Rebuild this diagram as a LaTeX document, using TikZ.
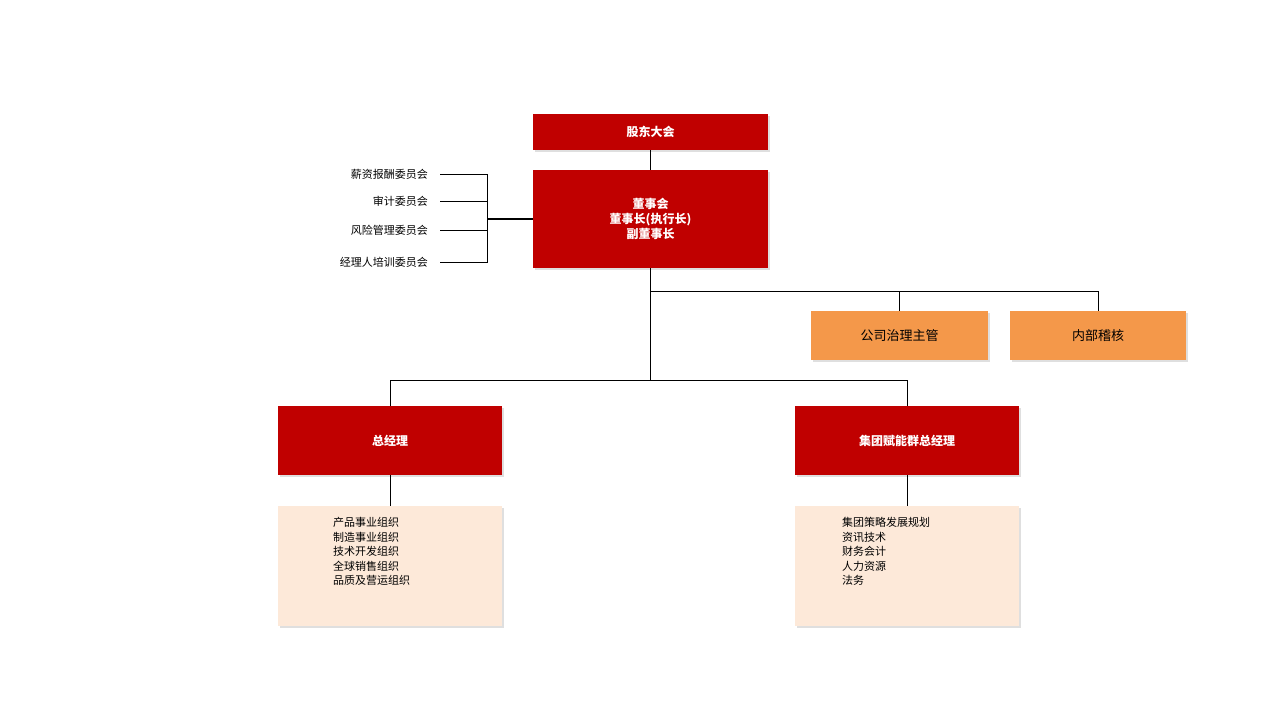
\documentclass[tikz,border=0pt]{standalone}
\usepackage{fontspec}
\setmainfont{Noto Sans CJK SC}
\usetikzlibrary{positioning,shadows}
\definecolor{boardred}{HTML}{C00000}
\definecolor{staffor}{HTML}{F4984A}
\definecolor{listbg}{HTML}{FDE9D9}
\tikzset{
  redbox/.style={fill=boardred,text=white,font=\bfseries\fontsize{12}{15}\selectfont,
    inner sep=0pt,align=center,drop shadow={opacity=0.25,shadow xshift=2pt,shadow yshift=-2pt}},
  orangebox/.style={fill=staffor,text=black,font=\fontsize{13}{15}\selectfont,
    inner sep=0pt,drop shadow={opacity=0.25,shadow xshift=2pt,shadow yshift=-2pt}},
  listbox/.style={fill=listbg,inner sep=0pt,drop shadow={opacity=0.25,shadow xshift=2pt,shadow yshift=-2pt}},
  listtext/.style={font=\fontsize{11}{14.6}\selectfont,align=left,inner sep=0pt,anchor=north west},
  cmte/.style={font=\fontsize{11}{13}\selectfont,anchor=east,inner sep=0pt},
  link/.style={draw=black,line width=0.6pt}
}
\begin{document}
\begin{tikzpicture}[x=1pt,y=-1pt]
\useasboundingbox (0,0) rectangle (1280,720);

% top of the organisation
\node[redbox,minimum width=235pt,minimum height=36pt] (meeting) at (650.5,132) {股东大会};
\node[redbox,minimum width=235pt,minimum height=98pt] (board) at (650.5,219) {董事会\\董事长(执行长)\\副董事长};
\node[orangebox,minimum width=177pt,minimum height=49pt] (gov) at (899.5,335.5) {公司治理主管};
\node[orangebox,minimum width=176pt,minimum height=49pt] (audit) at (1098,335.5) {内部稽核};
\node[redbox,minimum width=224pt,minimum height=69pt] (gm) at (390,440.5) {总经理};
\node[redbox,minimum width=224pt,minimum height=69pt] (ggm) at (907,440.5) {集团赋能群总经理};

% lists
\node[listbox,minimum width=224pt,minimum height=120pt] (gmlist) at (390,566) {};
\node[listbox,minimum width=224pt,minimum height=120pt] (ggmlist) at (907,566) {};
\node[listtext] (gmtext) at (333,517) {产品事业组织\\制造事业组织\\技术开发组织\\全球销售组织\\品质及营运组织};
\node[listtext] (ggmtext) at (842,517) {集团策略发展规划\\资讯技术\\财务会计\\人力资源\\法务};

% committees
\node[cmte] (pay) at (428,174) {薪资报酬委员会};
\node[cmte] (aud) at (428,201) {审计委员会};
\node[cmte] (risk) at (428,230) {风险管理委员会};
\node[cmte] (train) at (428,262) {经理人培训委员会};
\coordinate (cbar) at (487,219);
\foreach \c in {pay,aud,risk,train}
  \draw[link] ([xshift=12pt]\c.east) -| (cbar);
\draw[line width=1.4pt] (cbar) -- (board.west);

% connectors
\draw[link] (meeting) -- (board);
\coordinate (split1) at (650.5,291);
\coordinate (split2) at (650.5,380);
\draw[link] (board.south) -- (split2);
\draw[link] (split1) -| (gov.north);
\draw[link] (split1) -| (audit.north);
\draw[link] (split2) -| (gm.north);
\draw[link] (split2) -| (ggm.north);
\draw[link] (gm) -- (gmlist);
\draw[link] (ggm) -- (ggmlist);
\end{tikzpicture}
\end{document}
